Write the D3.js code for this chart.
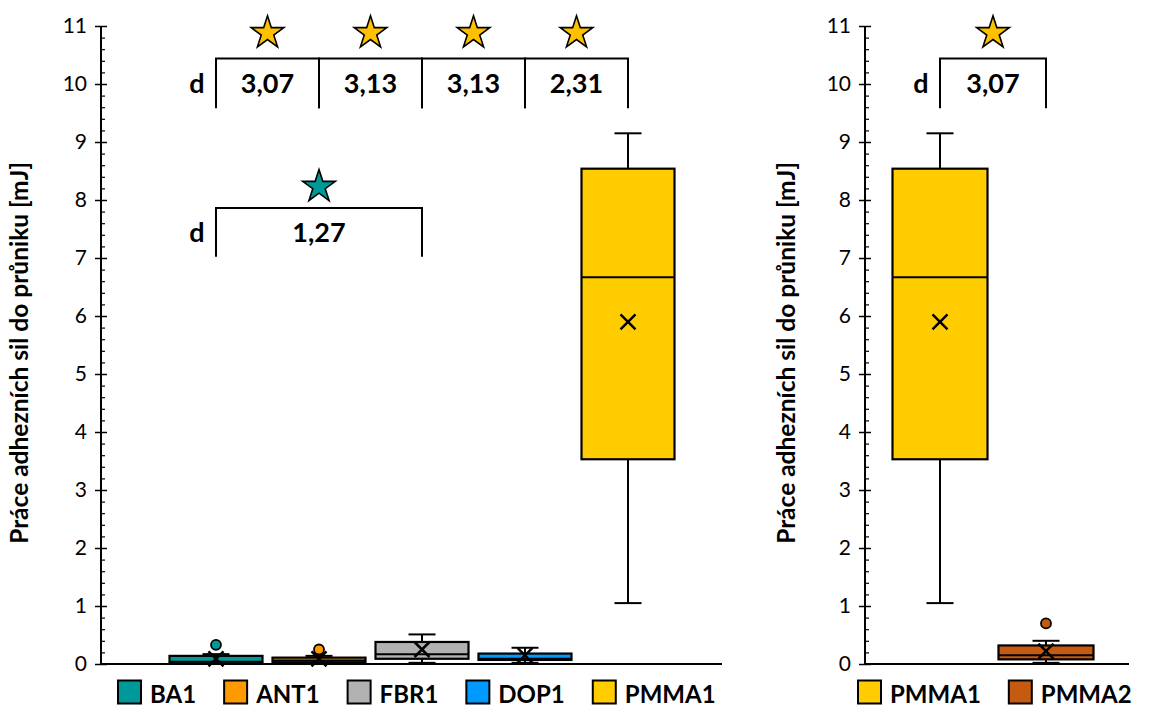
<!DOCTYPE html>
<html>
<head>
<meta charset="utf-8">
<script src="https://cdn.jsdelivr.net/npm/d3@7"></script>
<style>
  body { margin: 0; background: #fff; }
  svg { display: block; }
  text { font-family: Lato, "Open Sans", sans-serif; fill: #000; }
</style>
</head>
<body>
<svg id="chart" width="1163" height="708"></svg>
<script>
// ---------- DATA ----------
const leftCategories = ["BA1", "ANT1", "FBR1", "DOP1", "PMMA1"];
const leftColors     = ["#009999", "#FF9900", "#B2B2B2", "#0099FF", "#FFCC00"];
const leftMin    = [0.00, 0.02, 0.02, 0.02, 1.05];
const leftQ1     = [0.01, 0.03, 0.09, 0.07, 3.53];
const leftMedian = [0.04, 0.06, 0.17, 0.09, 6.67];
const leftQ3     = [0.14, 0.11, 0.38, 0.18, 8.54];
const leftMax    = [0.17, 0.14, 0.51, 0.28, 9.15];
const leftMean   = [0.09, 0.09, 0.25, 0.15, 5.90];
const leftOutliers = [[0.33], [0.25], [], [], []];

const rightCategories = ["PMMA1", "PMMA2"];
const rightColors     = ["#FFCC00", "#C55A11"];
const rightMin    = [1.05, 0.02];
const rightQ1     = [3.53, 0.08];
const rightMedian = [6.67, 0.15];
const rightQ3     = [8.54, 0.32];
const rightMax    = [9.15, 0.40];
const rightMean   = [5.90, 0.22];
const rightOutliers = [[], [0.70]];

const majorTicks = [0, 1, 2, 3, 4, 5, 6, 7, 8, 9, 10, 11];
const minorTicks = d3.range(0, 55).map(i => i / 5).filter(v => Math.abs(v - Math.round(v)) > 1e-6);
const yTitle = "Práce adhezních sil do průniku [mJ]";

// significance annotations
const leftSigFrom  = ["BA1", "ANT1", "FBR1", "DOP1", "BA1"];
const leftSigTo    = ["ANT1", "FBR1", "DOP1", "PMMA1", "FBR1"];
const leftSigD     = ["3,07", "3,13", "3,13", "2,31", "1,27"];
const leftSigLevel = [0, 0, 0, 0, 1];
const leftSigStarColor = ["#FFC000", "#FFC000", "#FFC000", "#FFC000", "#009999"];
const rightSigFrom = ["PMMA1"];
const rightSigTo   = ["PMMA2"];
const rightSigD    = ["3,07"];
const rightSigLevel = [0];
const rightSigStarColor = ["#FFC000"];
// bracket heights (data units) per level
const levelStar   = [10.88, 8.23];
const levelTop    = [10.44, 7.86];
const levelBottom = [9.58, 7.02];
const levelText   = [10.02, 7.45];

// ---------- LAYOUT ----------
const svg = d3.select("#chart");
svg.append("rect").attr("width", 1163).attr("height", 708).attr("fill", "#fff");

const y = d3.scaleLinear().domain([0, 11]).range([664, 26]);

const panels = [
  {
    cats: leftCategories, colors: leftColors,
    min: leftMin, q1: leftQ1, med: leftMedian, q3: leftQ3, max: leftMax, mean: leftMean, out: leftOutliers,
    axisX: 101, xEnd: 722, xRange: [216, 628], boxW: 93, titleX: 18,
    sigFrom: leftSigFrom, sigTo: leftSigTo, sigD: leftSigD, sigLevel: leftSigLevel, sigStar: leftSigStarColor,
    legendX: 118
  },
  {
    cats: rightCategories, colors: rightColors,
    min: rightMin, q1: rightQ1, med: rightMedian, q3: rightQ3, max: rightMax, mean: rightMean, out: rightOutliers,
    axisX: 865, xEnd: 1129, xRange: [940, 1046], boxW: 95, titleX: 785,
    sigFrom: rightSigFrom, sigTo: rightSigTo, sigD: rightSigD, sigLevel: rightSigLevel, sigStar: rightSigStarColor,
    legendX: 858
  }
];

panels.forEach(p => {
  const g = svg.append("g");
  const x = d3.scalePoint().domain(p.cats).range(p.xRange);

  // y axis: major ticks crossing, minor ticks inside
  const axOut = g.append("g").attr("transform", `translate(${p.axisX},0)`)
    .call(d3.axisLeft(y).tickValues(majorTicks).tickSize(6).tickPadding(8).tickFormat(d3.format("d")));
  axOut.select(".domain").remove();
  axOut.selectAll("line").attr("stroke", "#000").attr("stroke-width", 1.5);
  axOut.selectAll("text").style("font-size", "21px").style("font-family", "Lato, sans-serif");
  const axIn = g.append("g").attr("transform", `translate(${p.axisX},0)`)
    .call(d3.axisLeft(y).tickValues(majorTicks).tickSize(-6).tickFormat(""));
  axIn.select(".domain").remove();
  axIn.selectAll("line").attr("stroke", "#000").attr("stroke-width", 1.5);
  const axMinor = g.append("g").attr("transform", `translate(${p.axisX},0)`)
    .call(d3.axisLeft(y).tickValues(minorTicks).tickSize(-4).tickFormat(""));
  axMinor.select(".domain").remove();
  axMinor.selectAll("line").attr("stroke", "#000").attr("stroke-width", 1.2);
  g.append("line").attr("x1", p.axisX).attr("x2", p.axisX).attr("y1", y(11)).attr("y2", y(0) + 1)
    .attr("stroke", "#000").attr("stroke-width", 2);

  // y title
  g.append("text")
    .attr("transform", `translate(${p.titleX},${(y(0) + y(11)) / 2 + 8}) rotate(-90)`)
    .attr("text-anchor", "middle").attr("dominant-baseline", "central")
    .style("font-size", "24.5px").style("font-weight", "bold").text(yTitle);

  // boxes
  p.cats.forEach((c, i) => {
    const cx = x(c), w = p.boxW, cap = 27;
    const bg = g.append("g");
    bg.append("line").attr("x1", cx).attr("x2", cx).attr("y1", y(p.max[i])).attr("y2", y(p.q3[i]))
      .attr("stroke", "#000").attr("stroke-width", 2);
    bg.append("line").attr("x1", cx).attr("x2", cx).attr("y1", y(p.q1[i])).attr("y2", y(p.min[i]))
      .attr("stroke", "#000").attr("stroke-width", 2);
    [p.max[i], p.min[i]].forEach(v => {
      bg.append("line").attr("x1", cx - cap / 2).attr("x2", cx + cap / 2).attr("y1", y(v)).attr("y2", y(v))
        .attr("stroke", "#000").attr("stroke-width", 2);
    });
    bg.append("rect").attr("x", cx - w / 2).attr("width", w)
      .attr("y", y(p.q3[i])).attr("height", y(p.q1[i]) - y(p.q3[i]))
      .attr("fill", p.colors[i]).attr("stroke", "#000").attr("stroke-width", 2.2);
    bg.append("line").attr("x1", cx - w / 2).attr("x2", cx + w / 2)
      .attr("y1", y(p.med[i])).attr("y2", y(p.med[i])).attr("stroke", "#000").attr("stroke-width", 2);
    const my = y(p.mean[i]), s = 7.5;
    bg.append("path").attr("d", `M${cx - s},${my - s}L${cx + s},${my + s}M${cx - s},${my + s}L${cx + s},${my - s}`)
      .attr("stroke", "#000").attr("stroke-width", 2.5).attr("fill", "none");
    p.out[i].forEach(v => {
      bg.append("circle").attr("cx", cx).attr("cy", y(v)).attr("r", 5)
        .attr("fill", p.colors[i]).attr("stroke", "#000").attr("stroke-width", 1.8);
    });
  });

  // x axis line
  g.append("line").attr("x1", p.axisX - 1).attr("x2", p.xEnd).attr("y1", y(0)).attr("y2", y(0))
    .attr("stroke", "#000").attr("stroke-width", 2.2);

  // significance brackets
  const star = d3.symbol().type(d3.symbolStar).size(330);
  p.sigFrom.forEach((f, k) => {
    const x1 = x(f), x2 = x(p.sigTo[k]), lv = p.sigLevel[k], xm = (x1 + x2) / 2;
    g.append("path")
      .attr("d", `M${x1},${y(levelBottom[lv])}V${y(levelTop[lv])}H${x2}V${y(levelBottom[lv])}`)
      .attr("fill", "none").attr("stroke", "#000").attr("stroke-width", 2);
    g.append("text").attr("x", xm).attr("y", y(levelText[lv])).attr("text-anchor", "middle")
      .attr("dominant-baseline", "central").style("font-size", "27px").style("font-weight", "bold")
      .text(p.sigD[k]);
    g.append("path").attr("d", star()).attr("transform", `translate(${xm},${y(levelStar[lv])})`)
      .attr("fill", p.sigStar[k]).attr("stroke", "#000").attr("stroke-width", 1.6).attr("stroke-linejoin", "miter");
  });
  const levelsSeen = new Set();
  p.sigFrom.forEach((f, k) => {
    const lv = p.sigLevel[k];
    if (levelsSeen.has(lv)) return;
    levelsSeen.add(lv);
    g.append("text").attr("x", x(f) - 19).attr("y", y(levelText[lv])).attr("text-anchor", "middle")
      .attr("dominant-baseline", "central").style("font-size", "27px").style("font-weight", "bold").text("d");
  });

  // legend
  let lx = p.legendX;
  const ly = 692;
  p.cats.forEach((c, i) => {
    g.append("rect").attr("x", lx).attr("y", ly - 11.5).attr("width", 23).attr("height", 23)
      .attr("fill", p.colors[i]).attr("stroke", "#000").attr("stroke-width", 2);
    const t = g.append("text").attr("x", lx + 32).attr("y", ly + 1).attr("dominant-baseline", "central")
      .style("font-size", "24px").style("font-weight", "bold").text(c);
    lx = lx + 32 + t.node().getComputedTextLength() + 28;
  });
});
</script>
</body>
</html>
